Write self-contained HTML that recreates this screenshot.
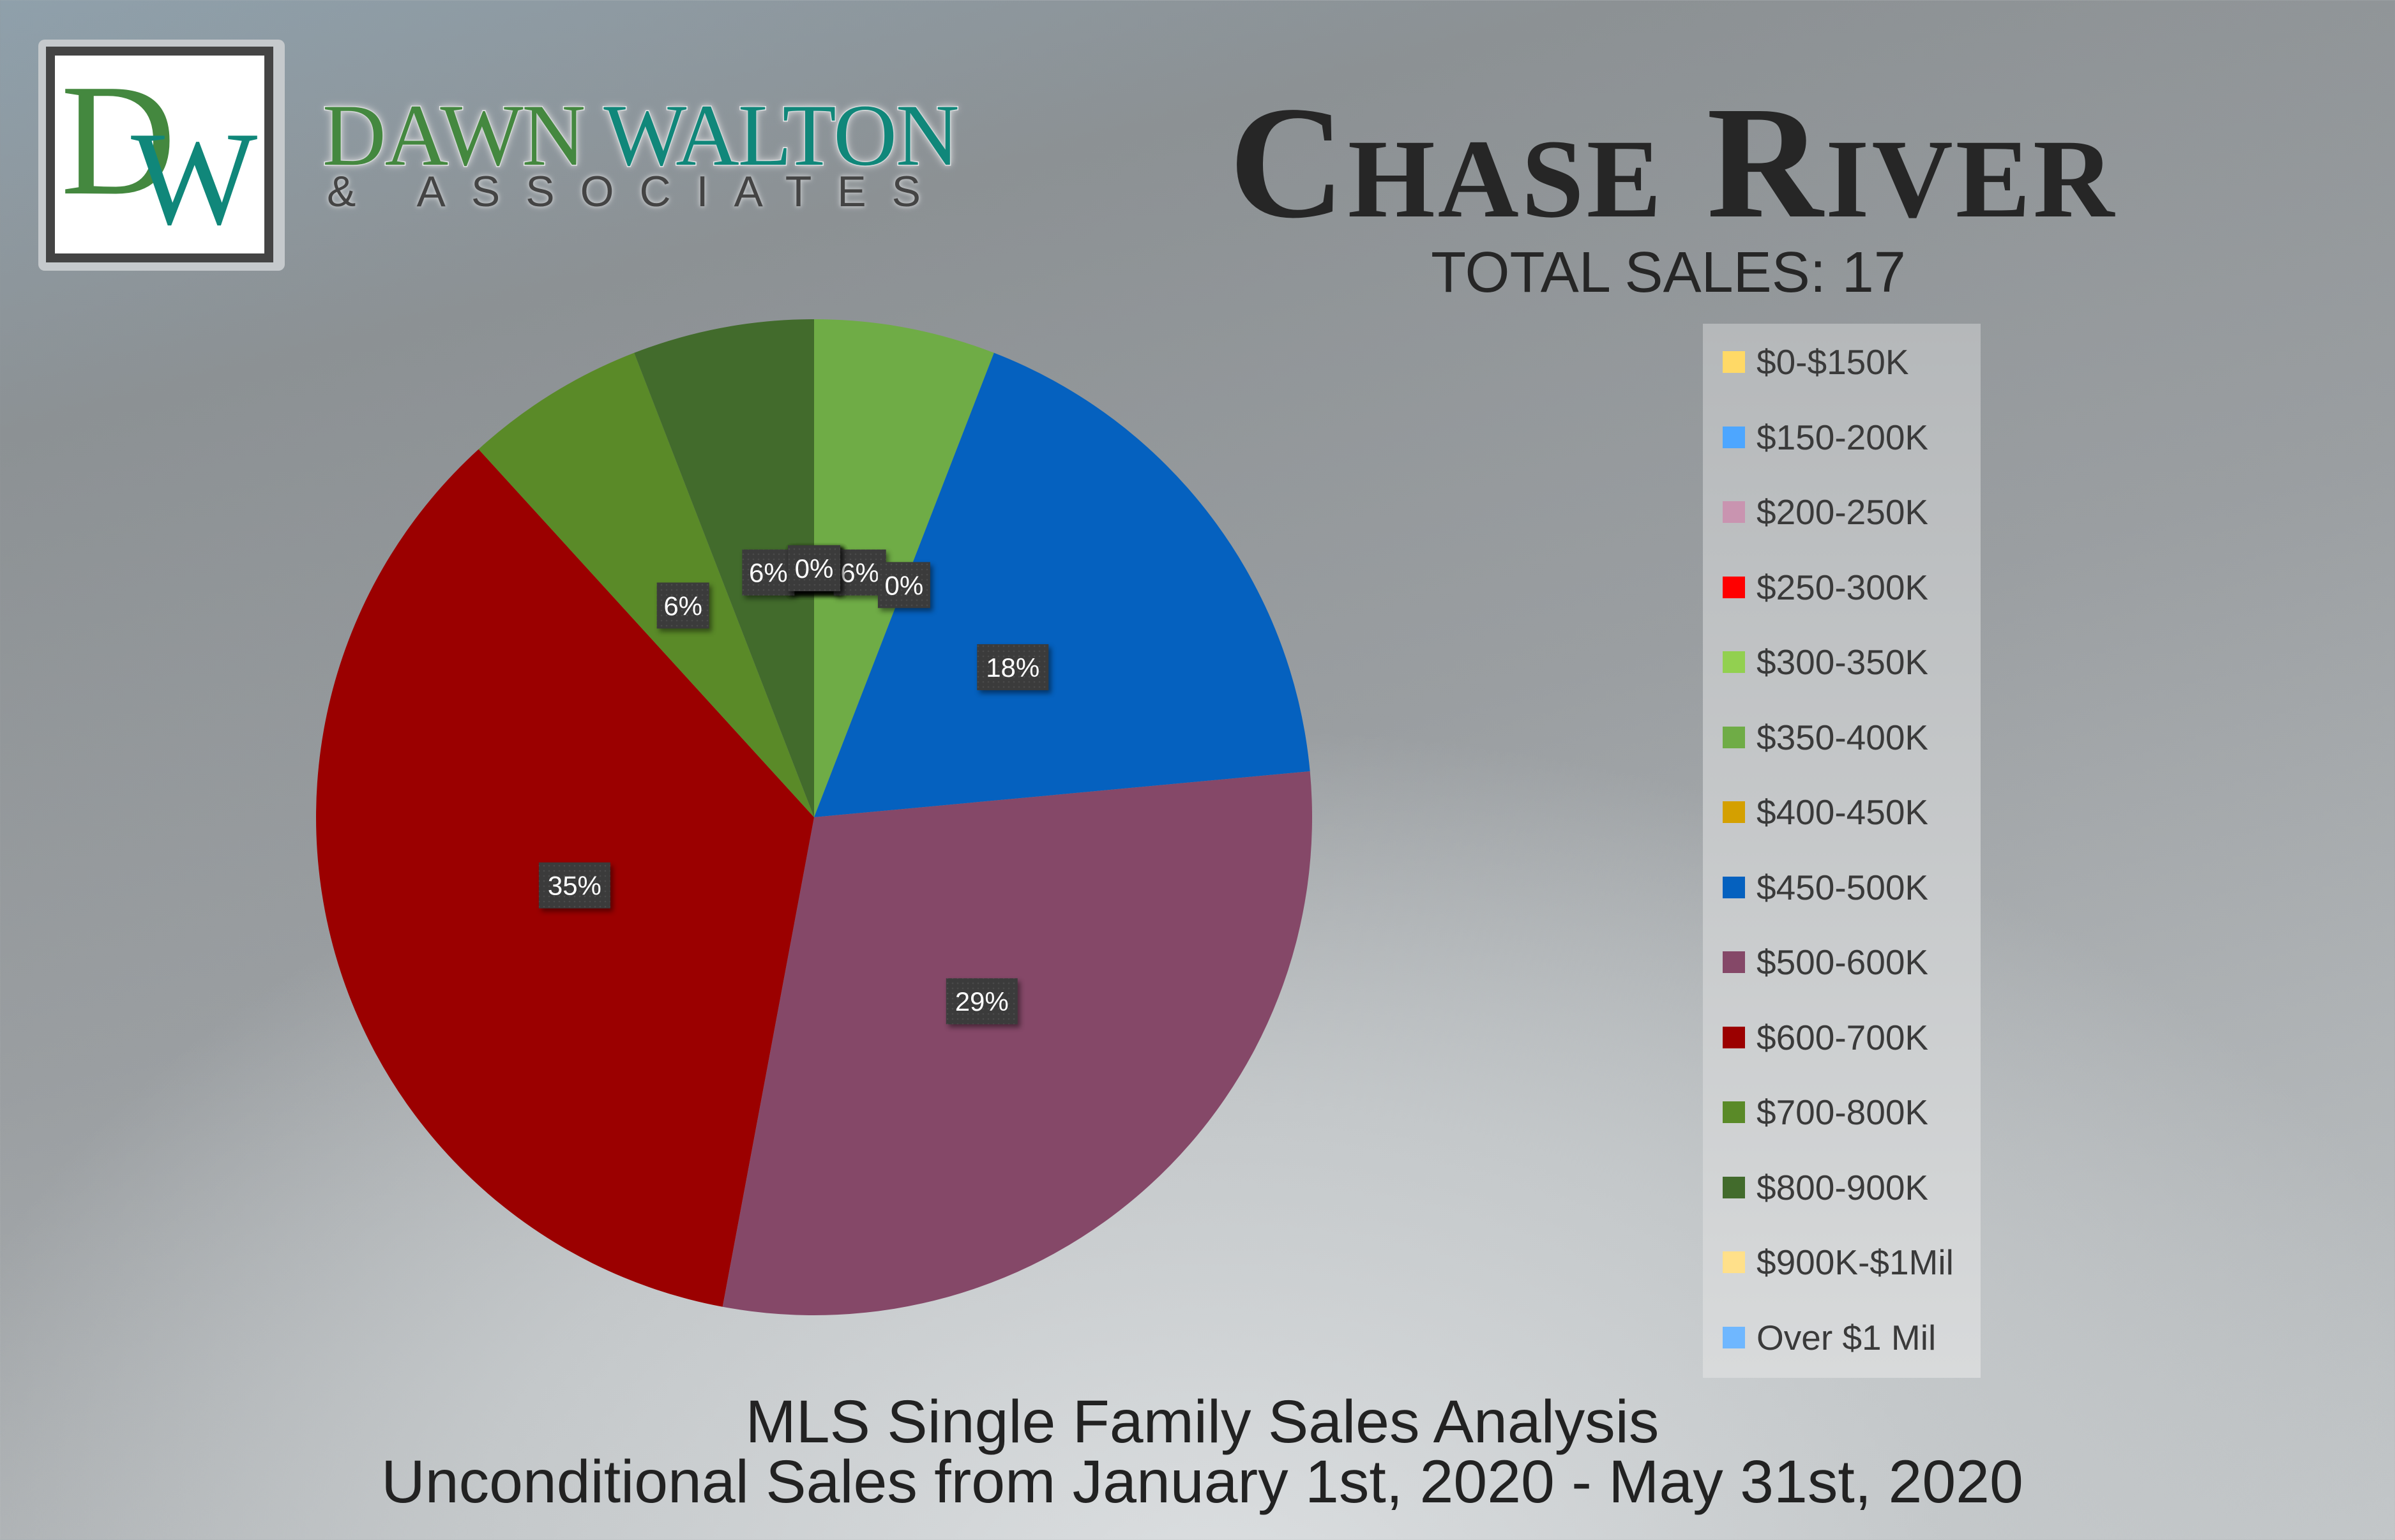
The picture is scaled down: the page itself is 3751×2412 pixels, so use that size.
<!DOCTYPE html>
<html><head><meta charset="utf-8">
<style>
html,body{margin:0;padding:0}
body{width:3751px;height:2412px;overflow:hidden;position:relative;font-family:"Liberation Sans",sans-serif;
background:radial-gradient(ellipse 2600px 1700px at 1900px 2500px,#dcdfe1 0%,#c4c8ca 45%,rgba(150,155,158,0) 80%),linear-gradient(165deg,#8fa0ab 0%,#8c9194 20%,#9a9ea1 50%,#c2c6c8 100%);}
.abs{position:absolute;white-space:nowrap}
</style></head><body>
<div class="abs" style="left:0;top:0;width:1500px;height:450px">
 <div class="abs" style="left:60px;top:62px;width:386px;height:362px;background:#c5c9cc;border-radius:10px"></div>
 <div class="abs" style="left:72px;top:73px;width:356px;height:338px;background:#fff;border:14px solid #444;box-sizing:border-box"></div>
 <div class="abs" style="left:95px;top:95px;font-family:'Liberation Serif',serif;font-size:250px;color:#44883f;line-height:1">D</div>
 <div class="abs" style="left:205px;top:175px;font-family:'Liberation Serif',serif;font-size:210px;color:#10877a;line-height:1">W</div>
 <div class="abs" style="left:505px;top:143px;font-family:'Liberation Serif',serif;font-size:138px;line-height:1;letter-spacing:-2px;-webkit-text-stroke:3px #fff;paint-order:stroke;text-shadow:0 0 14px #c8cbcd,0 0 10px #c8cbcd,0 0 6px #c8cbcd"><span style="color:#44883f">DAWN</span> <span style="color:#10877a">WALTON</span></div>
 <div class="abs" style="left:512px;top:266px;font-size:68px;line-height:1;letter-spacing:40px;color:#444;text-shadow:0 0 10px #c8cbcd,0 0 6px #c8cbcd">&amp; ASSOCIATES</div>
</div>
<div class="abs" style="left:1600px;width:2040px;top:128px;text-align:center;font-family:'Liberation Serif',serif;font-weight:bold;font-size:252px;line-height:1;font-variant:small-caps;color:#262626;letter-spacing:4px">Chase River</div>
<div class="abs" style="left:2113px;width:1000px;top:382px;text-align:center;font-size:90px;line-height:1;color:#262626">TOTAL SALES: 17</div>
<svg class="abs" style="left:0;top:0" width="3751" height="2412" id="chart">
 <defs><pattern id="dots" width="8" height="8" patternUnits="userSpaceOnUse"><rect width="8" height="8" fill="#3b3b3b"/><circle cx="4" cy="4" r="1.3" fill="#4a4a4a"/></pattern></defs>
 <g id="slices"></g><g id="labels"></g>
</svg>
<div class="abs" style="left:2667px;top:507px;width:435px;height:1651px;background:linear-gradient(#b5b8ba,#d8dadb)" id="legend"></div>
<div class="abs" style="left:0;width:3766px;top:2180px;text-align:center;font-size:95px;line-height:94px;color:#222">MLS Single Family Sales Analysis<br>Unconditional Sales from January 1st, 2020 - May 31st, 2020</div>
<script>
const categories=["$0-$150K","$150-200K","$200-250K","$250-300K","$300-350K","$350-400K","$400-450K","$450-500K","$500-600K","$600-700K","$700-800K","$800-900K","$900K-$1Mil","Over $1 Mil"];
const counts=[0,0,0,0,0,1,0,3,5,6,1,1,0,0];
const colors=["#ffd966","#4da6ff","#c994b0","#ff0000","#92d050","#6fac46","#d4a000","#0561bf","#854868","#9b0000","#5a8a28","#426b2c","#ffe08a","#6fb7ff"];
const cx=1275,cy=1280,R=780;
const NS="http://www.w3.org/2000/svg";
const total=counts.reduce((a,b)=>a+b,0);
function pt(a,r){return [cx+r*Math.sin(a),cy-r*Math.cos(a)];}
let acc=0;
const sg=document.getElementById('slices'),lg=document.getElementById('labels');
const labs=[];
counts.forEach((v,i)=>{
 const a0=acc/total*2*Math.PI;acc+=v;const a1=acc/total*2*Math.PI;
 if(v>0){
  const p0=pt(a0,R),p1=pt(a1,R);
  const path=document.createElementNS(NS,'path');
  path.setAttribute('d',`M${cx},${cy} L${p0[0]},${p0[1]} A${R},${R} 0 ${a1-a0>Math.PI?1:0} 1 ${p1[0]},${p1[1]} Z`);
  path.setAttribute('fill',colors[i]);
  
  
  sg.appendChild(path);
 }
 labs.push([(a0+a1)/2,Math.round(v/total*100)+'%',i]);
});
labs.forEach(([a,t,i])=>{
 const p=pt(a,R*0.5);
 const g=document.createElementNS(NS,'g');
 
 
 const w=t.length>2?112:82;
 const r=document.createElementNS(NS,'rect');
 r.setAttribute('x',p[0]-w/2);r.setAttribute('y',p[1]-36);r.setAttribute('width',w);r.setAttribute('height',72);
 r.setAttribute('fill','url(#dots)');r.setAttribute('style','filter:drop-shadow(4px 5px 4px rgba(0,0,0,.45))');
 const tx=document.createElementNS(NS,'text');
 tx.setAttribute('x',p[0]);tx.setAttribute('y',p[1]+15);tx.setAttribute('text-anchor','middle');
 tx.setAttribute('font-size','42');tx.setAttribute('fill','#fff');tx.setAttribute('font-family','Liberation Sans, sans-serif');
 tx.textContent=t;
 g.appendChild(r);g.appendChild(tx);lg.appendChild(g);
});
const leg=document.getElementById('legend');
categories.forEach((c,i)=>{
 const e=document.createElement('div');
 
 
 e.style.cssText=`position:absolute;left:31px;top:${30+i*117.5}px;height:60px;display:flex;align-items:center;font-size:55px;color:#3a3a3a;white-space:nowrap`;
 e.innerHTML=`<span style="display:inline-block;width:35px;height:34px;background:${colors[i]};margin-right:18px"></span>${c}`;
 leg.appendChild(e);
});
</script>
</body></html>
